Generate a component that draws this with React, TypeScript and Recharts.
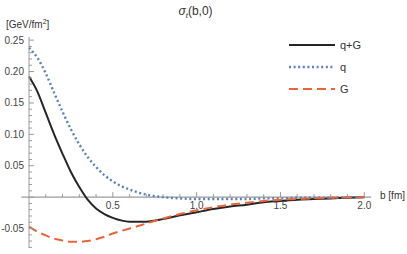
import { LineChart, Line, XAxis, YAxis, ReferenceLine, Legend } from 'recharts';

// impact parameter b [fm]
const bValues = [0, 0.05, 0.1, 0.15, 0.2, 0.25, 0.3, 0.35, 0.4, 0.45, 0.5, 0.6, 0.7, 0.8, 0.9, 1.0, 1.1, 1.2, 1.3, 1.4, 1.5, 1.6, 1.7, 1.8, 1.9, 2.0];
const qgValues = [0.192, 0.168, 0.134, 0.100, 0.069, 0.040, 0.016, -0.004, -0.018, -0.027, -0.033, -0.039, -0.039, -0.035, -0.029, -0.024, -0.019, -0.015, -0.012, -0.008, -0.006, -0.004, -0.003, -0.002, -0.001, 0];
const qValues = [0.238, 0.222, 0.197, 0.166, 0.136, 0.108, 0.084, 0.064, 0.048, 0.035, 0.025, 0.012, 0.004, 0.0, -0.002, -0.003, -0.003, -0.003, -0.003, -0.002, -0.002, -0.001, -0.001, -0.001, 0, 0];
const gValues = [-0.047, -0.055, -0.061, -0.066, -0.069, -0.071, -0.071, -0.070, -0.067, -0.063, -0.058, -0.050, -0.042, -0.034, -0.027, -0.021, -0.016, -0.012, -0.009, -0.006, -0.004, -0.003, -0.002, -0.001, -0.0005, 0];

const legendOrder = ['q+G', 'q', 'G'];

const xTicks = [0.1, 0.2, 0.3, 0.4, 0.5, 0.6, 0.7, 0.8, 0.9, 1.0, 1.1, 1.2, 1.3, 1.4, 1.5, 1.6, 1.7, 1.8, 1.9, 2.0];
const yTicks = [-0.08, -0.07, -0.06, -0.05, -0.04, -0.03, -0.02, -0.01, 0, 0.01, 0.02, 0.03, 0.04, 0.05, 0.06, 0.07, 0.08, 0.09, 0.1, 0.11, 0.12, 0.13, 0.14, 0.15, 0.16, 0.17, 0.18, 0.19, 0.2, 0.21, 0.22, 0.23, 0.24, 0.25];

const data = bValues.map((b, i) => ({ b, qg: qgValues[i], q: qValues[i], g: gValues[i] }));

const W = 407;
const H = 254;
const MARGIN = { top: 37, right: 36, bottom: 5, left: 28 };
const AXIS_W = 1;
const AXIS_H = 1;
const Y_MIN = -0.081;
const Y_MAX = 0.255;
// pixel row of y = 0, where the x axis sits
const PLOT_H = H - MARGIN.top - MARGIN.bottom - AXIS_H;
const ZERO_Y = MARGIN.top + (PLOT_H * Y_MAX) / (Y_MAX - Y_MIN);

const AXIS = '#9a9a9a';
const FONT = '"Liberation Sans", Arial, sans-serif';

const isMultiple = (v: number, step: number) => Math.abs(v / step - Math.round(v / step)) < 1e-6;

const XTick = (props: any) => {
  const { x, payload } = props;
  const v = payload.value;
  const major = isMultiple(v, 0.5);
  return (
    <g>
      <line x1={x} x2={x} y1={ZERO_Y} y2={ZERO_Y - (major ? 5 : 3)} stroke={AXIS} strokeWidth={1} />
      {major && (
        <text x={x} y={ZERO_Y + 11.5} textAnchor="middle" fontSize={10} fill="#444" fontFamily={FONT}>
          {v.toFixed(1)}
        </text>
      )}
    </g>
  );
};

const YTick = (props: any) => {
  const { y, payload } = props;
  const x = MARGIN.left + AXIS_W;
  const v = payload.value;
  const major = isMultiple(v, 0.05);
  return (
    <g>
      <line x1={x} x2={x + (major ? 5 : 3)} y1={y} y2={y} stroke={AXIS} strokeWidth={1} />
      {major && v !== 0 && (
        <text x={x - 5} y={y + 3.5} textAnchor="end" fontSize={10} fill="#444" fontFamily={FONT}>
          {v.toFixed(2)}
        </text>
      )}
    </g>
  );
};

const LegendBox = (props: any) => {
  const items = [...(props.payload || [])].sort(
    (a: any, b: any) => legendOrder.indexOf(a.value) - legendOrder.indexOf(b.value)
  );
  return (
    <div style={{ fontFamily: FONT, fontSize: 11, color: '#333' }}>
      {items.map((item: any) => (
        <div key={item.value} style={{ display: 'flex', alignItems: 'center', height: 22 }}>
          <svg width={46} height={6}>
            <line
              x1={0}
              x2={46}
              y1={3}
              y2={3}
              stroke={item.color}
              strokeWidth={item.payload.strokeWidth}
              strokeDasharray={item.payload.strokeDasharray}
            />
          </svg>
          <span style={{ marginLeft: 5 }}>{item.value}</span>
        </div>
      ))}
    </div>
  );
};

export default function App() {
  return (
    <div style={{ position: 'absolute', left: 0, top: 0, width: W, height: H, background: '#fff' }}>
      <div style={{ position: 'absolute', left: 0, width: 391, top: 4, textAlign: 'center', fontFamily: FONT, fontSize: 12, color: '#333' }}>
        <i>σ</i><sub style={{ fontSize: 8, fontStyle: 'italic' }}>t</sub>(b,0)
      </div>
      <div style={{ position: 'absolute', left: 6, top: 18, fontFamily: FONT, fontSize: 10, color: '#333' }}>
        [GeV/fm<sup style={{ fontSize: 7 }}>2</sup>]
      </div>
      <div style={{ position: 'absolute', left: 380, top: 190, fontFamily: FONT, fontSize: 10, color: '#333' }}>
        b [fm]
      </div>
      <LineChart width={W} height={H} data={data} margin={MARGIN}>
        <XAxis
          type="number"
          dataKey="b"
          domain={[0, 2.04]}
          ticks={xTicks}
          interval={0}
          height={AXIS_H}
          axisLine={false}
          tickLine={false}
          tickSize={0}
          tickMargin={0}
          tick={<XTick />}
        />
        <YAxis
          type="number"
          domain={[Y_MIN, Y_MAX]}
          ticks={yTicks}
          interval={0}
          width={AXIS_W}
          axisLine={{ stroke: AXIS, strokeWidth: 1 }}
          tickLine={false}
          tickSize={0}
          tickMargin={0}
          tick={<YTick />}
        />
        <ReferenceLine
          segment={[{ x: -0.045, y: 0 }, { x: 2.04, y: 0 }]}
          stroke={AXIS}
          strokeWidth={1.2}
          ifOverflow="visible"
        />
        <Legend
          layout="horizontal"
          align="center"
          verticalAlign="middle"
          content={<LegendBox />}
          wrapperStyle={{ left: 289, top: 34, width: 110 }}
        />
        <Line
          dataKey="qg"
          name="q+G"
          type="monotone"
          stroke="#262626"
          strokeWidth={2}
          dot={false}
          isAnimationActive={false}
        />
        <Line
          dataKey="q"
          name="q"
          type="monotone"
          stroke="#5b80bd"
          strokeWidth={2.4}
          strokeDasharray="2 2.6"
          dot={false}
          isAnimationActive={false}
        />
        <Line
          dataKey="g"
          name="G"
          type="monotone"
          stroke="#ea6438"
          strokeWidth={2}
          strokeDasharray="9 5"
          dot={false}
          isAnimationActive={false}
        />
      </LineChart>
    </div>
  );
}
